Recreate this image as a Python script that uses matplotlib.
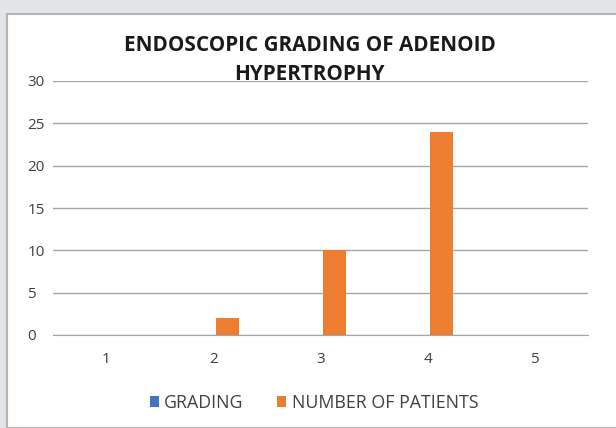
import numpy as np
import matplotlib
matplotlib.use("Agg")
import matplotlib.pyplot as plt
from matplotlib.patches import Rectangle

# data
grades = ["1", "2", "3", "4", "5"]
grading = [0, 0, 0, 0, 0]
patients = [0, 2, 10, 24, 0]
y_ticks = [0, 5, 10, 15, 20, 25, 30]

plt.rcParams['font.family'] = ['Open Sans', 'DejaVu Sans']

fig = plt.figure(figsize=(6.16, 4.28), dpi=100)
fig.patch.set_facecolor("#e2e6e8")
# white chart panel
fig.patches.append(Rectangle((7 / 616, 0), 1, (428 - 14) / 428, transform=fig.transFigure,
                             facecolor="white", edgecolor="#b5b5b5", linewidth=1.5, zorder=-1))

ax = fig.add_axes([53 / 616, 1 - 335 / 428, 535 / 616, 254 / 428])
ax.set_facecolor("none")

x = np.arange(len(grades))
w = 0.215
off = 0.135
ax.bar(x + off - w, grading, w, color="#4472c4", label="GRADING", zorder=3)
ax.bar(x + off, patients, w, color="#ed7d31", label="NUMBER OF PATIENTS", zorder=3)

ax.set_xlim(-0.5, 4.5)
ax.set_ylim(0, 30)
ax.set_yticks(y_ticks)
ax.set_xticks(x)
ax.set_xticklabels(grades)
ax.grid(axis="y", color="#a6a6a6", linewidth=1, zorder=0)
for s in ["top", "right", "left"]:
    ax.spines[s].set_visible(False)
ax.spines["bottom"].set_color("#a6a6a6")
ax.tick_params(axis="both", length=0, labelsize=11, labelcolor="#404040")
ax.tick_params(axis="x", pad=12)
ax.tick_params(axis="y", pad=18.5)
for lbl in ax.get_yticklabels():
    lbl.set_horizontalalignment("left")

fig.text(0.503, 1 - 60 / 428, "ENDOSCOPIC GRADING OF ADENOID\nHYPERTROPHY", ha="center", va="center",
         fontsize=14.9, fontweight="bold", color="#1a1a1a", linespacing=1.45, zorder=1)

fig.legend(loc="center", bbox_to_anchor=(0.51, 1 - 403 / 428), ncol=2, frameon=False,
           fontsize=12.8, handlelength=0.5, handleheight=0.6, handletextpad=0.3, columnspacing=1.9,
           labelcolor="#404040")

fig.savefig("out.png", dpi=100, facecolor=fig.get_facecolor())
